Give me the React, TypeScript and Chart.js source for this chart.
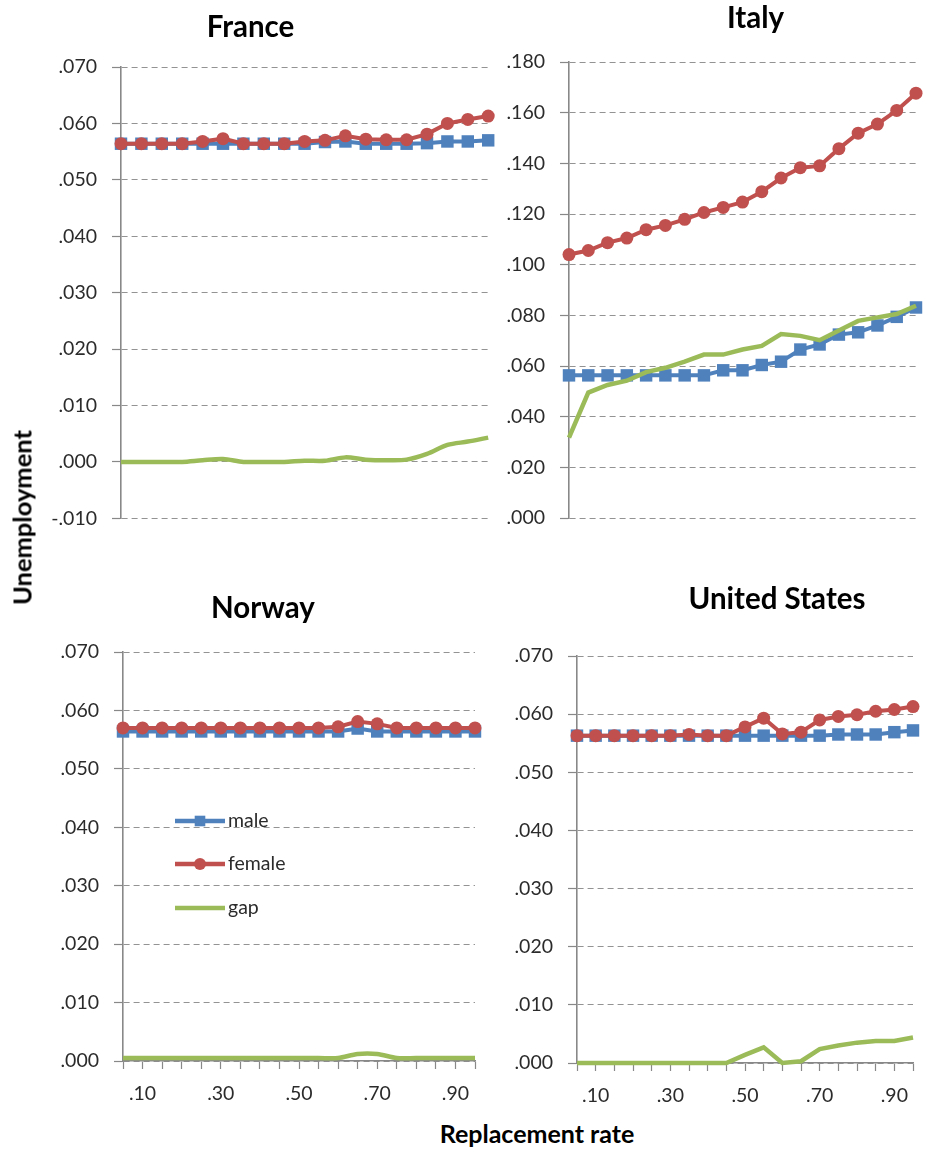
import React, { useEffect, useRef } from 'react';
import { Chart, registerables } from 'chart.js';
import { drawPoint } from 'chart.js/helpers';

Chart.register(...registerables);

// ---------------- data ----------------
const categories = ['.05', '.10', '.15', '.20', '.25', '.30', '.35', '.40', '.45', '.50', '.55', '.60', '.65', '.70', '.75', '.80', '.85', '.90', '.95'];

const franceMale = [0.0564, 0.0564, 0.0564, 0.0564, 0.0564, 0.0564, 0.0564, 0.0564, 0.0564, 0.0564, 0.0567, 0.0568, 0.0564, 0.0564, 0.0564, 0.0565, 0.0568, 0.0568, 0.0570];
const franceFemale = [0.0564, 0.0564, 0.0564, 0.0564, 0.0568, 0.0573, 0.0564, 0.0564, 0.0564, 0.0568, 0.0570, 0.0578, 0.0572, 0.0571, 0.0571, 0.0581, 0.0600, 0.0607, 0.0613];
const franceGap = [0, 0, 0, 0, 0.0003, 0.0005, 0, 0, 0, 0.0002, 0.0002, 0.0008, 0.0004, 0.0003, 0.0004, 0.0014, 0.0030, 0.0036, 0.0043];

const italyMale = [0.0563, 0.0563, 0.0563, 0.0563, 0.0563, 0.0563, 0.0563, 0.0563, 0.0583, 0.0583, 0.0604, 0.0617, 0.0665, 0.0685, 0.0724, 0.0733, 0.0760, 0.0794, 0.0831];
const italyFemale = [0.1040, 0.1056, 0.1087, 0.1105, 0.1138, 0.1155, 0.1179, 0.1206, 0.1226, 0.1247, 0.1288, 0.1342, 0.1383, 0.1390, 0.1458, 0.1519, 0.1555, 0.1609, 0.1677];
const italyGap = [0.0317, 0.0495, 0.0525, 0.0542, 0.0576, 0.0593, 0.0617, 0.0645, 0.0645, 0.0665, 0.0679, 0.0726, 0.0719, 0.0702, 0.0740, 0.0778, 0.0792, 0.0805, 0.0838];

const norwayMale = [0.0564, 0.0564, 0.0564, 0.0564, 0.0564, 0.0564, 0.0564, 0.0564, 0.0564, 0.0564, 0.0564, 0.0564, 0.0569, 0.0564, 0.0564, 0.0564, 0.0564, 0.0564, 0.0564];
const norwayFemale = [0.0570, 0.0570, 0.0570, 0.0570, 0.0570, 0.0570, 0.0570, 0.0570, 0.0570, 0.0570, 0.0570, 0.0572, 0.0581, 0.0577, 0.0570, 0.0570, 0.0570, 0.0570, 0.0570];
const norwayGap = [0.0005, 0.0005, 0.0005, 0.0005, 0.0005, 0.0005, 0.0005, 0.0005, 0.0005, 0.0005, 0.0005, 0.0005, 0.0012, 0.0012, 0.0005, 0.0005, 0.0005, 0.0005, 0.0005];

const usMale = [0.0563, 0.0563, 0.0563, 0.0563, 0.0563, 0.0563, 0.0563, 0.0563, 0.0563, 0.0563, 0.0563, 0.0563, 0.0563, 0.0563, 0.0565, 0.0565, 0.0565, 0.0569, 0.0572];
const usFemale = [0.0563, 0.0563, 0.0563, 0.0563, 0.0563, 0.0563, 0.0565, 0.0563, 0.0563, 0.0578, 0.0593, 0.0566, 0.0569, 0.0590, 0.0596, 0.0599, 0.0605, 0.0608, 0.0613];
const usGap = [0, 0, 0, 0, 0, 0, 0, 0, 0, 0.0014, 0.0027, 0, 0.0003, 0.0024, 0.0030, 0.0035, 0.0038, 0.0038, 0.0044];

const seriesNames = ['male', 'female', 'gap'];
const panelTitles = ['France', 'Italy', 'Norway', 'United States'];
const yAxisTitle = 'Unemployment';
const xAxisTitle = 'Replacement rate';

// ---------------- styles ----------------
const BLUE = '#4F81BD';
const RED = '#C0504D';
const GREEN = '#9BBB59';
const FONT = 'Lato, "Open Sans", sans-serif';
const TICK_COLOR = '#2b2b2b';
const XH = 45;

function fmt(v: any) {
  const s = Number(v).toFixed(3);
  return s.replace(/^(-?)0\./, '$1.');
}

type Panel = {
  title: string;
  x: number; y: number; w: number; h: number;
  plot: { left: number; top: number; right: number; bottom: number };
  yMin: number; yMax: number; yStep: number;
  showX: boolean;
  titlePos: { x: number; y: number };
  legend: boolean;
  male: number[]; female: number[]; gap: number[];
  gapTension: number;
};

const PANELS: Panel[] = [
  {
    title: panelTitles[0], x: 0, y: 0, w: 497, h: 545,
    plot: { left: 121, top: 67, right: 489, bottom: 520 },
    yMin: -0.01, yMax: 0.07, yStep: 0.01, showX: false,
    titlePos: { x: 250.5, y: 37 }, legend: false,
    male: franceMale, female: franceFemale, gap: franceGap, gapTension: 0.3,
  },
  {
    title: panelTitles[1], x: 500, y: 0, w: 426, h: 545,
    plot: { left: 569, top: 62, right: 916, bottom: 518 },
    yMin: 0, yMax: 0.18, yStep: 0.02, showX: false,
    titlePos: { x: 255.5, y: 28 }, legend: false,
    male: italyMale, female: italyFemale, gap: italyGap, gapTension: 0,
  },
  {
    title: panelTitles[2], x: 0, y: 580, w: 497, h: 530,
    plot: { left: 123, top: 652, right: 475, bottom: 1061 },
    yMin: 0, yMax: 0.07, yStep: 0.01, showX: true,
    titlePos: { x: 263, y: 38 }, legend: true,
    male: norwayMale, female: norwayFemale, gap: norwayGap, gapTension: 0.3,
  },
  {
    title: panelTitles[3], x: 500, y: 580, w: 426, h: 530,
    plot: { left: 577, top: 656, right: 924, bottom: 1063 },
    yMin: 0, yMax: 0.07, yStep: 0.01, showX: true,
    titlePos: { x: 277, y: 29 }, legend: false,
    male: usMale, female: usFemale, gap: usGap, gapTension: 0,
  },
];

const titlePlugin = {
  id: 'panelTitle',
  afterDraw(chart: any, _args: any, opts: any) {
    const ctx = chart.ctx;
    ctx.save();
    ctx.font = `bold 29.5px ${FONT}`;
    ctx.fillStyle = '#000000';
    ctx.textAlign = 'center';
    ctx.textBaseline = 'alphabetic';
    ctx.fillText(opts.text, opts.x, opts.y);
    ctx.restore();
  },
};

const legendPlugin = {
  id: 'innerLegend',
  afterDraw(chart: any, _args: any, opts: any) {
    const ctx = chart.ctx;
    const items = [
      { label: seriesNames[0], color: BLUE, style: 'rect', r: 7.5, y: opts.y0 },
      { label: seriesNames[1], color: RED, style: 'circle', r: 6, y: opts.y0 + opts.dy1 },
      { label: seriesNames[2], color: GREEN, style: false, r: 0, y: opts.y0 + opts.dy2 },
    ];
    ctx.save();
    items.forEach((it) => {
      ctx.strokeStyle = it.color;
      ctx.fillStyle = it.color;
      ctx.lineWidth = 4.5;
      ctx.beginPath();
      ctx.moveTo(opts.x1, it.y);
      ctx.lineTo(opts.x2, it.y);
      ctx.stroke();
      if (it.style) {
        drawPoint(ctx, { pointStyle: it.style as any, radius: it.r, rotation: 0, borderWidth: 0 } as any, (opts.x1 + opts.x2) / 2, it.y);
      }
      ctx.fillStyle = TICK_COLOR;
      ctx.font = `19.5px ${FONT}`;
      ctx.textAlign = 'left';
      ctx.textBaseline = 'alphabetic';
      ctx.fillText(it.label, opts.x2 + 3, it.y + 5.5);
    });
    ctx.restore();
  },
};

function PanelChart({ p }: { p: Panel }) {
  const ref = useRef<HTMLCanvasElement>(null);
  useEffect(() => {
    const W = p.plot.left - p.x;
    const padding = {
      left: 0,
      top: p.plot.top - p.y,
      right: p.x + p.w - p.plot.right,
      bottom: p.y + p.h - p.plot.bottom - (p.showX ? XH : 0),
    };
    const tickFont = { family: FONT, size: 19.5 };
    const xScale: any = p.showX
      ? {
          type: 'category',
          offset: false,
          ticks: {
            autoSkip: false, maxRotation: 0, minRotation: 0,
            font: tickFont, color: TICK_COLOR, padding: 13,
            callback: (_v: any, i: number) => (i % 4 === 1 ? categories[i] : ''),
          },
          grid: { drawOnChartArea: false, drawTicks: true, tickLength: 8, tickColor: '#888888', tickWidth: 1.2 },
          border: { display: true, color: '#888888', width: 1.6 },
          afterFit: (s: any) => { s.height = XH; },
        }
      : {
          type: 'category',
          offset: false,
          ticks: { display: false },
          grid: { display: false },
          border: { display: false },
          afterFit: (s: any) => { s.height = 0; },
        };
    const chart = new Chart(ref.current as HTMLCanvasElement, {
      type: 'line',
      data: {
        labels: categories,
        datasets: [
          {
            label: seriesNames[0], data: p.male, order: 3,
            borderColor: BLUE, backgroundColor: BLUE, borderWidth: 4,
            pointStyle: 'rect', pointRadius: 8.8, pointBackgroundColor: BLUE, pointBorderColor: BLUE, pointBorderWidth: 0,
            tension: 0, clip: false,
          },
          {
            label: seriesNames[1], data: p.female, order: 2,
            borderColor: RED, backgroundColor: RED, borderWidth: 4,
            pointStyle: 'circle', pointRadius: 6.5, pointBackgroundColor: RED, pointBorderColor: RED, pointBorderWidth: 0,
            tension: 0, clip: false,
          },
          {
            label: seriesNames[2], data: p.gap, order: 1,
            borderColor: GREEN, backgroundColor: GREEN, borderWidth: 4.5,
            pointRadius: 0, tension: p.gapTension, cubicInterpolationMode: 'default', clip: false,
          },
        ] as any,
      },
      options: {
        animation: false,
        responsive: false,
        devicePixelRatio: 1,
        layout: { padding },
        scales: {
          x: xScale,
          y: {
            type: 'linear',
            min: p.yMin, max: p.yMax,
            ticks: { stepSize: p.yStep, callback: (v: any) => fmt(v), font: tickFont, color: TICK_COLOR, padding: 15 },
            grid: { color: '#939393', lineWidth: 1, drawTicks: true, tickLength: 9, tickColor: '#888888', tickWidth: 1.2 },
            border: { display: true, color: '#888888', width: 1.6, dash: [6, 4] },
            afterFit: (s: any) => { s.width = W; },
          } as any,
        },
        plugins: {
          legend: { display: false },
          tooltip: { enabled: false },
          panelTitle: { text: p.title, x: p.titlePos.x, y: p.titlePos.y },
          innerLegend: { x1: 175, x2: 225, y0: 241, dy1: 43, dy2: 87 },
        } as any,
      },
      plugins: p.legend ? [titlePlugin, legendPlugin] : [titlePlugin],
    });
    return () => chart.destroy();
  }, [p]);
  return (
    <canvas
      ref={ref}
      width={p.w}
      height={p.h}
      style={{ position: 'absolute', left: p.x, top: p.y, width: p.w, height: p.h, display: 'block' }}
    />
  );
}

export default function App() {
  return (
    <div style={{ position: 'absolute', left: 0, top: 0, width: 926, height: 1150, overflow: 'hidden', background: '#ffffff' }}>
      {PANELS.map((p, i) => (
        <PanelChart key={i} p={p} />
      ))}
      <div
        style={{
          position: 'absolute', left: 22, top: 517, width: 300, height: 25,
          marginLeft: -150, marginTop: -12.5,
          transform: 'rotate(-90deg)', textAlign: 'center',
          font: `bold 25.5px/25px ${FONT}`, color: '#000', whiteSpace: 'nowrap',
        }}
      >
        {yAxisTitle}
      </div>
      <div
        style={{
          position: 'absolute', left: 537 - 150, top: 1121, width: 300, height: 24, textAlign: 'center',
          font: `bold 25px/24px ${FONT}`, color: '#000', whiteSpace: 'nowrap',
        }}
      >
        {xAxisTitle}
      </div>
    </div>
  );
}
